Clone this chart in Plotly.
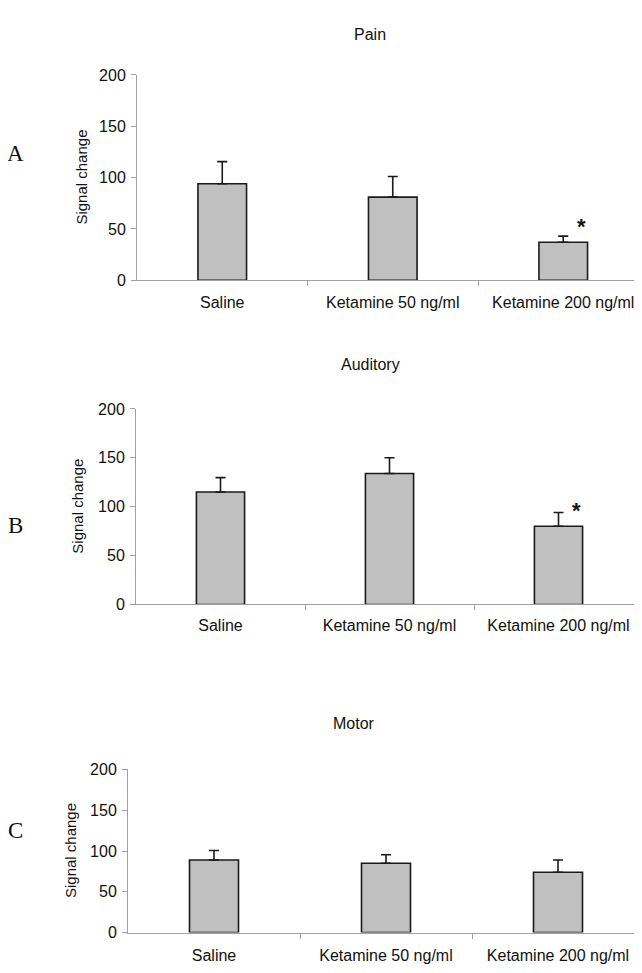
import plotly.graph_objects as go

categories = ["Saline", "Ketamine 50 ng/ml", "Ketamine 200 ng/ml"]
panel_titles = ["Pain", "Auditory", "Motor"]
panel_letters = ["A", "B", "C"]

pain_mean = [94, 81, 37]
pain_err = [21.6, 20, 6]
auditory_mean = [115, 134, 80]
auditory_err = [14.7, 16, 14]
motor_mean = [89, 85, 74]
motor_err = [11.6, 10.5, 15]

means = [pain_mean, auditory_mean, motor_mean]
errs = [pain_err, auditory_err, motor_err]
star_index = [2, 2, None]
star_value = [52, 96, None]

y_ticks = [0, 50, 100, 150, 200]

# The page body has an 8px default margin; the figure is sized to fit the window.
OFF = 8
PAGE_W, PAGE_H = 642, 973
W, H = PAGE_W - OFF, PAGE_H - OFF

# page-pixel layout: (left, top, bottom, category width)
panels_px = [(137, 68, 277, 170.5), (136, 408, 607, 169), (128, 775, 941, 172)]
title_px = [(370, 27), (370, 363), (354, 728)]
letter_px = [(15, 148), (15, 527), (15, 837)]
ytitle_px = [82, 78, 70]
label_standoff = [8, 6, 8]


def px_x(p):
    return (p - OFF) / W


def px_y(p):
    return 1 - (p - OFF) / H


fig = go.Figure()
font_family = "Liberation Sans, Arial, sans-serif"

for i in range(3):
    left, top, bottom, cw = panels_px[i]
    xa = "x" if i == 0 else f"x{i+1}"
    ya = "y" if i == 0 else f"y{i+1}"
    fig.add_trace(go.Bar(
        x=[0, 1, 2], y=means[i], xaxis=xa, yaxis=ya,
        width=0.285,
        marker=dict(color="#c0c0c0", line=dict(color="#1a1a1a", width=1.6)),
        error_y=dict(type="data", array=errs[i], symmetric=False, arrayminus=[0, 0, 0],
                     color="#1a1a1a", thickness=1.6, width=5),
        showlegend=False,
    ))
    xdom = [px_x(left), 1.0]
    ydom = [px_y(bottom), px_y(top)]
    xend = -0.5 + (PAGE_W - left) / cw
    axkey_x = "xaxis" if i == 0 else f"xaxis{i+1}"
    axkey_y = "yaxis" if i == 0 else f"yaxis{i+1}"
    fig.update_layout(**{
        axkey_x: dict(domain=xdom, anchor=ya, range=[-0.5, xend],
                      tickvals=[0, 1, 2], ticktext=categories, ticks="",
                      ticklabelstandoff=label_standoff[i],
                      showline=True, linecolor="#a0a0a0", linewidth=1,
                      showgrid=False, zeroline=False,
                      tickfont=dict(family=font_family, size=16, color="#111"),
                      minor=dict(tickvals=[0.5, 1.5], ticks="outside", ticklen=5,
                                 tickcolor="#a0a0a0", showgrid=False)),
        axkey_y: dict(domain=ydom, anchor=xa, range=[0, 200],
                      tickvals=y_ticks, ticks="outside", ticklen=5,
                      tickcolor="#a0a0a0", showline=True, linecolor="#a0a0a0",
                      linewidth=1, showgrid=False, zeroline=False,
                      ticklabelstandoff=2,
                      tickfont=dict(family=font_family, size=16, color="#111")),
    })
    tx, ty = title_px[i]
    fig.add_annotation(text=panel_titles[i], x=px_x(tx), y=px_y(ty), xref="paper", yref="paper",
                       showarrow=False, xanchor="center", yanchor="middle",
                       font=dict(family=font_family, size=16, color="#111"))
    lx, ly = letter_px[i]
    fig.add_annotation(text=panel_letters[i], x=px_x(lx), y=px_y(ly), xref="paper", yref="paper",
                       showarrow=False, xanchor="center", yanchor="middle",
                       font=dict(family="Liberation Serif, Times New Roman, serif", size=23, color="#111"))
    fig.add_annotation(text="Signal change", x=px_x(ytitle_px[i]), y=px_y((top + bottom) / 2),
                       xref="paper", yref="paper", showarrow=False, textangle=-90,
                       xanchor="center", yanchor="middle",
                       font=dict(family=font_family, size=15, color="#111"))
    if star_index[i] is not None:
        fig.add_annotation(text="<b>*</b>", x=star_index[i], y=star_value[i], xref=xa, yref=ya,
                           showarrow=False, xanchor="center", yanchor="middle",
                           xshift=18, yshift=0,
                           font=dict(family=font_family, size=22, color="#111"))

fig.update_layout(width=W, height=H, margin=dict(l=0, r=0, t=0, b=0),
                  paper_bgcolor="white", plot_bgcolor="white", bargap=0.72)
fig.write_html("out.html")
